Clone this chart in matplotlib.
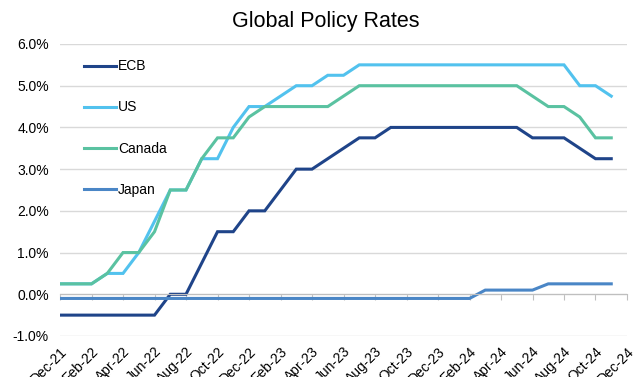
import numpy as np
import pandas as pd
import matplotlib
matplotlib.use("Agg")
import matplotlib.pyplot as plt
from matplotlib.ticker import FuncFormatter

plt.rcParams['font.family'] = ['Liberation Sans', 'DejaVu Sans']

# monthly category axis, Dec-21 .. Dec-24 (last month has no data)
months = pd.date_range("2021-12-01", "2024-12-01", freq="MS")
tick_labels = ["Dec-21", "Feb-22", "Apr-22", "Jun-22", "Aug-22", "Oct-22", "Dec-22",
               "Feb-23", "Apr-23", "Jun-23", "Aug-23", "Oct-23", "Dec-23",
               "Feb-24", "Apr-24", "Jun-24", "Aug-24", "Oct-24", "Dec-24"]

# policy rates in %, Dec-21 .. Nov-24
ecb = [-0.5, -0.5, -0.5, -0.5, -0.5, -0.5, -0.5, 0.0, 0.0, 0.75, 1.5, 1.5,
       2.0, 2.0, 2.5, 3.0, 3.0, 3.25, 3.5, 3.75, 3.75, 4.0, 4.0, 4.0,
       4.0, 4.0, 4.0, 4.0, 4.0, 4.0, 3.75, 3.75, 3.75, 3.5, 3.25, 3.25]
us = [0.25, 0.25, 0.25, 0.5, 0.5, 1.0, 1.75, 2.5, 2.5, 3.25, 3.25, 4.0,
      4.5, 4.5, 4.75, 5.0, 5.0, 5.25, 5.25, 5.5, 5.5, 5.5, 5.5, 5.5,
      5.5, 5.5, 5.5, 5.5, 5.5, 5.5, 5.5, 5.5, 5.5, 5.0, 5.0, 4.75]
canada = [0.25, 0.25, 0.25, 0.5, 1.0, 1.0, 1.5, 2.5, 2.5, 3.25, 3.75, 3.75,
          4.25, 4.5, 4.5, 4.5, 4.5, 4.5, 4.75, 5.0, 5.0, 5.0, 5.0, 5.0,
          5.0, 5.0, 5.0, 5.0, 5.0, 5.0, 4.75, 4.5, 4.5, 4.25, 3.75, 3.75]
japan = [-0.1, -0.1, -0.1, -0.1, -0.1, -0.1, -0.1, -0.1, -0.1, -0.1, -0.1, -0.1,
         -0.1, -0.1, -0.1, -0.1, -0.1, -0.1, -0.1, -0.1, -0.1, -0.1, -0.1, -0.1,
         -0.1, -0.1, -0.1, 0.1, 0.1, 0.1, 0.1, 0.25, 0.25, 0.25, 0.25, 0.25]

x = np.arange(len(ecb))

fig = plt.figure(figsize=(6.44, 3.77), dpi=100)
ax = fig.add_axes([0.0932, 0.1088, 0.8804, 0.7745])

lw = 2.2
ax.plot(x, ecb, color="#1F4489", lw=lw, label="ECB", solid_joinstyle="miter")
ax.plot(x, us, color="#52C2EE", lw=lw, label="US", solid_joinstyle="miter")
ax.plot(x, canada, color="#5AC2A1", lw=lw, label="Canada", solid_joinstyle="miter")
ax.plot(x, japan, color="#4A86C6", lw=lw, label="Japan", solid_joinstyle="miter")

ax.set_xlim(0, len(months) - 1)
ax.set_ylim(-1, 6)
ax.set_yticks(np.arange(-1, 7, 1))
ax.yaxis.set_major_formatter(FuncFormatter(lambda v, p: f"{v:.1f}%"))
ax.tick_params(axis="y", length=0, labelsize=10, pad=8)
ax.grid(axis="y", color="#D9D9D9", lw=1)
ax.set_axisbelow(True)

for s in ["top", "right", "left"]:
    ax.spines[s].set_visible(False)
ax.spines["bottom"].set_position(("data", 0))
ax.spines["bottom"].set_color("#BFBFBF")
tick_pos = np.arange(0, len(months), 2)
ax.set_xticks(tick_pos)
ax.tick_params(axis="x", length=4, color="#BFBFBF", labelbottom=False, direction="out")

sec = ax.secondary_xaxis("bottom")
sec.set_xticks(tick_pos, tick_labels, rotation=45, ha="right", rotation_mode="anchor")
sec.tick_params(length=0, labelsize=10, pad=6)
sec.spines["bottom"].set_visible(False)

fig.suptitle("Global Policy Rates", fontsize=15.5, x=0.506, y=0.928, va="baseline")

ax.legend(loc="upper left", bbox_to_anchor=(0.02, 0.99), frameon=False, fontsize=10,
          labelspacing=1.95, handlelength=2.3, handletextpad=0.15)

fig.savefig("out.png", dpi=100)
